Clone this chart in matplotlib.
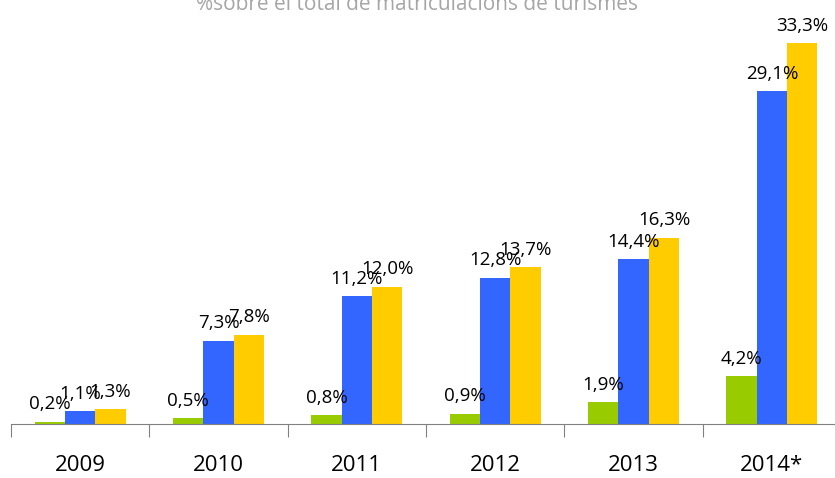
import numpy as np
import matplotlib.pyplot as plt

# Dades
anys = ["2009", "2010", "2011", "2012", "2013", "2014*"]
verd = [0.2, 0.5, 0.8, 0.9, 1.9, 4.2]
blau = [1.1, 7.3, 11.2, 12.8, 14.4, 29.1]
groc = [1.3, 7.8, 12.0, 13.7, 16.3, 33.3]

plt.rcParams['font.family'] = ['Open Sans', 'DejaVu Sans']

fig = plt.figure(figsize=(8.35, 4.78), dpi=100)
ax = fig.add_axes([11 / 835, 1 - 424 / 478, 830 / 835, 423 / 478])

x = np.arange(len(anys))
w = 0.22
series = [(verd, '#99CC00', -w), (blau, '#3366FF', 0), (groc, '#FFCC00', w)]
for vals, col, off in series:
    bars = ax.bar(x + off, vals, width=w, color=col)
    for b, v in zip(bars, vals):
        ax.annotate(f"{v:.1f}%".replace('.', ','),
                    (b.get_x() + b.get_width() / 2, b.get_height()),
                    xytext=(0, 6), textcoords='offset points',
                    ha='center', va='bottom', fontsize=13.5)

ax.set_xlim(-0.5, len(anys) - 0.5)
ax.set_ylim(0, 37)

# separadors a les vores de cada categoria, etiquetes al centre
ax.set_xticks(np.arange(len(anys) + 1) - 0.5)
ax.set_xticklabels([])
ax.tick_params(axis='x', which='major', length=9, color='#808080')
ax.set_xticks(x, minor=True)
ax.set_xticklabels(anys, minor=True, fontsize=16)
ax.tick_params(axis='x', which='minor', length=0, pad=22)

ax.set_yticks([])
for s in ['top', 'right', 'left']:
    ax.spines[s].set_visible(False)
ax.spines['bottom'].set_color('#808080')

fig.text(417 / 835, 1 - 5 / 478, "%sobre el total de matriculacions de turismes",
         ha='center', va='center', fontsize=15, color='#a6a6a6')

fig.savefig('out.png', dpi=100)
